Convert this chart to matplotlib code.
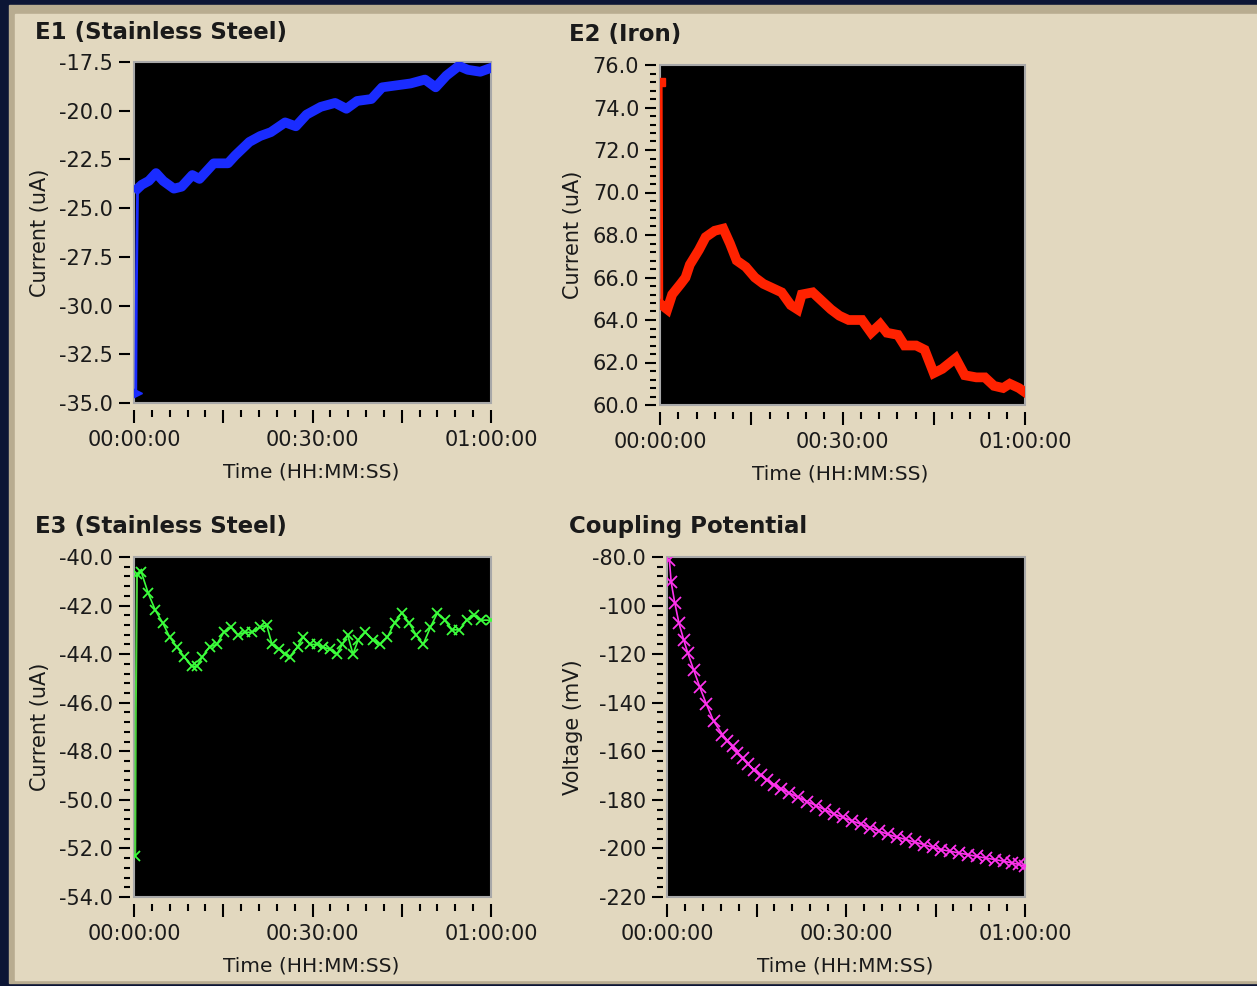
import matplotlib
matplotlib.use("Agg")
import matplotlib.pyplot as plt
from matplotlib.patches import Rectangle
from matplotlib.ticker import FixedLocator, MultipleLocator

plt.rcParams['font.family'] = ['DejaVu Sans']

W, H = 1257, 986

# time in minutes
e1_time = [0.3, 0.4, 0.6, 1.3, 2.5, 3.7, 4.9, 6.7, 8.0, 9.8, 11.0, 13.4, 15.8, 17.0, 19.4, 21.2,
           23.0, 25.4, 27.2, 29.0, 31.4, 33.8, 35.7, 37.5, 39.9, 41.7, 44.1, 46.5, 48.9, 50.7,
           52.5, 54.6, 56.1, 58.2, 60]
e1_current = [-34.5, -29.2, -24.0, -23.8, -23.6, -23.2, -23.6, -24.0, -23.9, -23.3, -23.5, -22.7,
              -22.7, -22.3, -21.6, -21.3, -21.1, -20.6, -20.8, -20.2, -19.8, -19.6, -19.9, -19.5,
              -19.4, -18.8, -18.7, -18.6, -18.4, -18.8, -18.2, -17.7, -17.9, -18.0, -17.8]

e2_time = [0.2, 0.3, 1.2, 2.0, 3.4, 4.2, 4.9, 6.4, 7.5, 9.0, 10.4, 11.5, 12.6, 14.1, 15.6, 17.0,
           18.5, 20.0, 21.5, 22.6, 23.3, 25.1, 26.6, 28.1, 29.5, 31.0, 33.2, 34.7, 36.2, 37.3,
           39.1, 40.2, 42.1, 43.5, 45.0, 46.4, 48.6, 50.1, 52.0, 53.4, 54.9, 56.4, 57.5, 59.0, 60]
e2_current = [75.2, 64.7, 64.5, 65.2, 65.7, 66.0, 66.6, 67.3, 67.9, 68.2, 68.3, 67.6, 66.8, 66.5,
              66.0, 65.7, 65.5, 65.3, 64.7, 64.5, 65.2, 65.3, 64.9, 64.5, 64.2, 64.0, 64.0, 63.4,
              63.8, 63.4, 63.3, 62.8, 62.8, 62.6, 61.5, 61.7, 62.2, 61.4, 61.3, 61.3, 60.9, 60.8,
              61.0, 60.8, 60.6]

e3_time = [0.2, 0.3, 0.5, 1.2, 2.4, 3.6, 4.8, 6.0, 7.2, 8.4, 9.7, 10.6, 11.5, 12.7, 13.9, 15.1,
           16.3, 17.5, 18.7, 19.9, 21.1, 22.3, 23.2, 24.4, 25.3, 26.2, 27.5, 28.4, 29.6, 30.8,
           31.7, 32.9, 34.1, 35.0, 35.9, 36.8, 37.7, 38.9, 40.1, 41.4, 42.6, 43.8, 45.0, 46.2,
           47.4, 48.6, 49.8, 51.0, 52.2, 53.5, 54.7, 55.9, 57.1, 58.3, 60]
e3_current = [-52.3, -46.4, -40.7, -40.6, -41.5, -42.2, -42.7, -43.3, -43.7, -44.1, -44.5, -44.5,
              -44.1, -43.7, -43.6, -43.1, -42.9, -43.2, -43.1, -43.1, -42.9, -42.8, -43.6, -43.8,
              -44.0, -44.1, -43.7, -43.3, -43.6, -43.6, -43.7, -43.8, -44.0, -43.6, -43.2, -44.0,
              -43.4, -43.1, -43.4, -43.6, -43.3, -42.7, -42.3, -42.7, -43.2, -43.6, -42.9, -42.3,
              -42.6, -43.0, -43.0, -42.6, -42.4, -42.6, -42.6]

cp_time = [0.4, 0.7, 1.3, 2.0, 2.8, 3.5, 4.5, 5.5, 6.6, 7.8, 9.3, 10.1, 11.0, 11.8, 12.7, 13.6,
           14.6, 15.7, 16.8, 17.9, 19.1, 20.5, 22.0, 23.5, 25.0, 26.5, 28.0, 29.5, 31.0, 32.5,
           34.0, 35.5, 37.0, 38.5, 40.0, 41.5, 43.0, 44.5, 46.0, 47.5, 49.0, 50.5, 52.0, 53.5,
           55.0, 56.5, 57.9, 59.0, 60.0]
cp_voltage = [-81.4, -90.4, -98.8, -107.2, -114.1, -119.7, -126.7, -133.6, -140.6, -147.5, -153.1,
              -155.6, -158.0, -160.5, -162.9, -165.4, -167.8, -169.9, -171.9, -173.7, -175.4,
              -177.2, -178.9, -180.7, -182.4, -184.1, -185.8, -187.2, -188.6, -190.0, -191.4,
              -192.8, -194.2, -195.3, -196.3, -197.4, -198.4, -199.5, -200.5, -201.2, -201.9,
              -202.6, -203.3, -204.0, -204.6, -205.3, -206.0, -206.6, -207.4]

x_major = [0, 15, 30, 45, 60]
x_labels = ['00:00:00', '', '00:30:00', '', '01:00:00']

e1_ticks = [-35.0, -32.5, -30.0, -27.5, -25.0, -22.5, -20.0, -17.5]
e2_ticks = [60, 62, 64, 66, 68, 70, 72, 74, 76]
e3_ticks = [-54, -52, -50, -48, -46, -44, -42, -40]
cp_ticks = [-220, -200, -180, -160, -140, -120, -100, -80]
cp_labels = ['-220', '-200', '-180', '-160', '-140', '-120', '-100', '-80.0']

TXT = '#1a1a1a'

fig = plt.figure(figsize=(W / 100, H / 100), dpi=100)
fig.patch.set_facecolor('#0c1535')


def px(x0, y0, x1, y1):
    return [x0 / W, 1 - y1 / H, (x1 - x0) / W, (y1 - y0) / H]


fig.add_artist(Rectangle((9 / W, 1 - 983 / H), (W - 9) / W, (983 - 5) / H,
                         transform=fig.transFigure, color='#b8ac90', zorder=0))
fig.add_artist(Rectangle((15 / W, 1 - 980 / H), (W - 15) / W, (980 - 14) / H,
                         transform=fig.transFigure, color='#e2d8bf', zorder=0))


def setup(ax, ticks, labels, ylim, minor=None):
    ax.set_facecolor('black')
    ax.set_xlim(0, 60)
    ax.set_ylim(*ylim)
    for s in ax.spines.values():
        s.set_visible(False)
    ax.spines['bottom'].set_position(('outward', 5))
    ax.spines['left'].set_position(('outward', 3))
    ax.xaxis.set_major_locator(FixedLocator(x_major))
    ax.set_xticklabels(x_labels)
    ax.xaxis.set_minor_locator(MultipleLocator(3))
    ax.yaxis.set_major_locator(FixedLocator(ticks))
    ax.set_yticklabels(labels)
    if minor:
        ax.yaxis.set_minor_locator(MultipleLocator(minor))
    ax.tick_params(axis='x', which='major', length=9.5, width=1.5, pad=5,
                   labelsize=15, colors='black', labelcolor=TXT)
    ax.tick_params(axis='x', which='minor', length=5, width=1.5, colors='black')
    ax.tick_params(axis='y', which='major', length=8, width=1.5, pad=4,
                   labelsize=15, colors='black', labelcolor=TXT)
    ax.tick_params(axis='y', which='minor', length=4.5, width=1.5, colors='black')
    ax.add_patch(Rectangle((0, 0), 1, 1, transform=ax.transAxes, fill=False,
                           edgecolor='#a8a8a8', lw=1.5, clip_on=False, zorder=1.5))


# E1
ax1 = fig.add_axes(px(134, 62, 491, 403))
setup(ax1, e1_ticks, ['%.1f' % v for v in e1_ticks], (-35, -17.5))
ax1.plot(e1_time[:3], e1_current[:3], color='#1a2cff', lw=2)
ax1.plot(e1_time[0], e1_current[0], marker='>', ms=8, color='#1a2cff')
ax1.plot(e1_time[2:], e1_current[2:], color='#1a2cff', lw=7, solid_joinstyle='round')

# E2
ax2 = fig.add_axes(px(660, 65, 1025, 405))
setup(ax2, e2_ticks, ['%.1f' % v for v in e2_ticks], (60, 76), minor=0.4)
ax2.plot(e2_time[:2], e2_current[:2], color='#ff2200', lw=2)
ax2.plot(e2_time[0], e2_current[0], marker='s', ms=6, color='#ff2200')
ax2.plot(e2_time[1:], e2_current[1:], color='#ff2200', lw=7, solid_joinstyle='miter')

# E3
ax3 = fig.add_axes(px(134, 557, 491, 897))
setup(ax3, e3_ticks, ['%.1f' % v for v in e3_ticks], (-54, -40), minor=0.4)
ax3.plot(e3_time[:3], e3_current[:3], color='#4cd43c', lw=1.5)
ax3.plot(e3_time[2:], e3_current[2:], color='#3cff3c', lw=1.2, marker='x', ms=7, mew=1.3)
ax3.plot(e3_time[0], e3_current[0], marker='x', ms=7, mew=1.3, color='#3cff3c')

# Coupling potential
ax4 = fig.add_axes(px(667, 557, 1025, 897))
setup(ax4, cp_ticks, cp_labels, (-220, -80), minor=4)
ax4.plot(cp_time, cp_voltage, color='#ff33ee', lw=1.2, marker='x', ms=8, mew=1.3)

# titles and axis labels
for x, y, t in [(35, 33, 'E1 (Stainless Steel)'), (569, 35, 'E2 (Iron)'),
                (35, 527, 'E3 (Stainless Steel)'), (569, 527, 'Coupling Potential')]:
    fig.text(x / W, 1 - y / H, t, fontsize=16.5, fontweight='bold', color=TXT,
             ha='left', va='center')

for x, y in [(311, 472), (840, 474), (311, 966), (845, 966)]:
    fig.text(x / W, 1 - y / H, 'Time (HH:MM:SS)', fontsize=14.5, color=TXT,
             ha='center', va='center')

for x, y, t in [(40, 233, 'Current (uA)'), (573, 235, 'Current (uA)'),
                (40, 727, 'Current (uA)'), (573, 727, 'Voltage (mV)')]:
    fig.text(x / W, 1 - y / H, t, fontsize=15, color=TXT, rotation=90,
             ha='center', va='center')

fig.savefig('out.png', dpi=100, facecolor=fig.get_facecolor())
